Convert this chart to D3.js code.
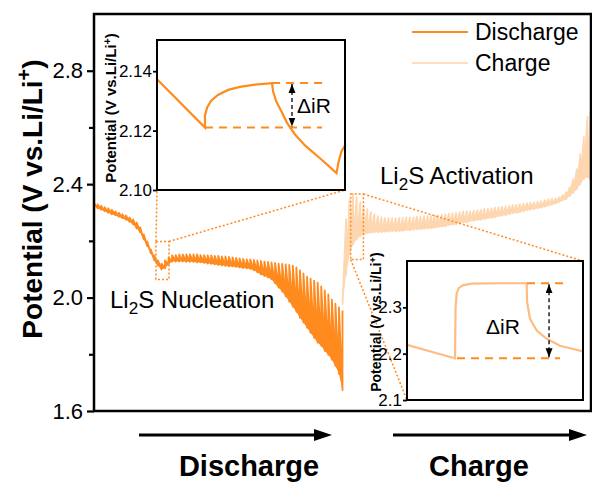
<!DOCTYPE html>
<html>
<head>
<meta charset="utf-8">
<script src="https://cdn.jsdelivr.net/npm/d3@7"></script>
<style>
  body { margin: 0; background: #fff; }
  svg { display: block; }
  text { font-family: "Liberation Sans", Arial, sans-serif; }
</style>
</head>
<body>
<svg id="chart"></svg>
<script>
// GITT pulses, volts. upper = relaxed tops, lower = end of each current pulse
const dischargeUpper = [2.333, 2.329, 2.324, 2.319, 2.315, 2.310, 2.304, 2.299, 2.294, 2.290,
  2.283, 2.276, 2.265, 2.248, 2.223, 2.198, 2.170, 2.149, 2.131, 2.120,
  2.131, 2.142, 2.149, 2.150, 2.152, 2.152, 2.152, 2.152, 2.152, 2.152,
  2.150, 2.150, 2.149, 2.149, 2.147, 2.147, 2.145, 2.145, 2.143, 2.142,
  2.140, 2.138, 2.136, 2.135, 2.135, 2.133, 2.131, 2.129, 2.127, 2.126,
  2.124, 2.122, 2.120, 2.119, 2.117, 2.115, 2.113, 2.106, 2.096, 2.085,
  2.074, 2.067, 2.060, 2.053, 2.039, 2.025, 2.011, 1.993, 1.979, 1.965, 1.954];
const dischargeLower = [2.315, 2.310, 2.304, 2.299, 2.294, 2.290, 2.285, 2.280, 2.274, 2.267,
  2.258, 2.244, 2.230, 2.205, 2.181, 2.156, 2.131, 2.113, 2.099, 2.103,
  2.117, 2.127, 2.127, 2.127, 2.127, 2.126, 2.126, 2.126, 2.124, 2.124,
  2.122, 2.120, 2.119, 2.117, 2.115, 2.113, 2.112, 2.110, 2.110, 2.108,
  2.106, 2.104, 2.103, 2.101, 2.096, 2.089, 2.081, 2.076, 2.071, 2.064,
  2.050, 2.035, 2.021, 2.004, 1.986, 1.968, 1.950, 1.929, 1.912, 1.894,
  1.876, 1.858, 1.841, 1.830, 1.812, 1.798, 1.781, 1.759, 1.731, 1.674];
const chargeLower = [1.975, 2.081, 2.152, 2.188, 2.205, 2.216, 2.223, 2.227, 2.228, 2.230,
  2.230, 2.230, 2.232, 2.232, 2.234, 2.234, 2.234, 2.235, 2.237, 2.237,
  2.239, 2.241, 2.241, 2.242, 2.244, 2.244, 2.246, 2.248, 2.250, 2.251,
  2.255, 2.257, 2.258, 2.262, 2.264, 2.265, 2.269, 2.271, 2.273, 2.274,
  2.276, 2.280, 2.281, 2.283, 2.287, 2.289, 2.290, 2.294, 2.297, 2.299,
  2.301, 2.304, 2.308, 2.310, 2.312, 2.315, 2.317, 2.320, 2.324, 2.327,
  2.331, 2.336, 2.342, 2.347, 2.358, 2.368, 2.382, 2.400, 2.418, 2.425, 2.407];
const chargeUpper = [2.276, 2.347, 2.365, 2.354, 2.336, 2.322, 2.312, 2.301, 2.294, 2.287,
  2.283, 2.280, 2.280, 2.280, 2.280, 2.281, 2.281, 2.283, 2.283, 2.283,
  2.285, 2.285, 2.287, 2.287, 2.288, 2.290, 2.290, 2.292, 2.294, 2.296,
  2.297, 2.299, 2.301, 2.303, 2.304, 2.304, 2.306, 2.308, 2.310, 2.312,
  2.313, 2.315, 2.317, 2.319, 2.320, 2.322, 2.324, 2.326, 2.327, 2.329,
  2.331, 2.333, 2.335, 2.336, 2.338, 2.340, 2.343, 2.347, 2.349, 2.350,
  2.354, 2.361, 2.372, 2.389, 2.418, 2.453, 2.506, 2.566, 2.637, 2.676];

const yMajor = [1.6, 2.0, 2.4, 2.8];
const yMinor = [1.8, 2.2, 2.6];

// single pulse close-ups (time in % of window, volts)
const inset1Time = [0, 25.5, 25.5, 26.6, 28.7, 32.4, 37.8, 44.1, 52.1, 61.2, 61.7, 63.3, 66, 69.1, 73.4, 78.7, 86.7, 95.5, 96.5, 98.1, 100];
const inset1Volt = [2.1373, 2.121, 2.125, 2.1277, 2.130, 2.132, 2.1337, 2.1347, 2.1355, 2.136, 2.1333, 2.130, 2.1267, 2.1227, 2.1187, 2.115, 2.1107, 2.1057, 2.1093, 2.113, 2.115];
const inset1Ticks = [2.10, 2.12, 2.14];
const inset2Time = [0, 14.9, 27.3, 27.6, 28.2, 29.5, 32, 37, 52.8, 68, 68.2, 69.9, 73.7, 79.4, 86.9, 100];
const inset2Volt = [2.219, 2.203, 2.190, 2.300, 2.330, 2.342, 2.348, 2.351, 2.352, 2.352, 2.312, 2.275, 2.250, 2.232, 2.217, 2.205];
const inset2Ticks = [2.1, 2.2, 2.3];

const orange = '#ff8b1f', light = '#fed6b0';

const W = 592, H = 484;
const margin = {top: 14, right: 1, bottom: 73, left: 94};
const svg = d3.select('#chart').attr('width', W).attr('height', H);

const x = d3.scaleLinear().domain([0, dischargeLower.length + chargeUpper.length]).range([margin.left, W - margin.right]);
const y = d3.scaleLinear().domain([1.6, 3.0]).range([H - margin.bottom, margin.top]);

svg.append('defs').append('clipPath').attr('id', 'plotclip')
  .append('rect').attr('x', margin.left).attr('y', margin.top)
  .attr('width', W - margin.left - margin.right).attr('height', H - margin.top - margin.bottom);

// sawtooth paths: tops are spikes, the body under each pulse is filled
const dPts = [];
dischargeLower.forEach((lo, i) => { dPts.push([i, dischargeUpper[i]]); dPts.push([i + 1, lo]); });
dPts.push([dischargeLower.length, dischargeUpper[dischargeLower.length]]);
const dBody = dPts.slice(0, -1).concat(dischargeLower.map((lo, i) => [i + 1, lo]).reverse());

const off = dischargeLower.length;
const cPts = [];
chargeUpper.forEach((up, i) => { cPts.push([off + i, chargeLower[i]]); cPts.push([off + i + 1, up]); });
cPts.push([off + chargeUpper.length, chargeLower[chargeUpper.length]]);
const cBody = cPts.concat(chargeLower.map((lo, i) => [off + i, lo]).reverse());

const line = d3.line().x(d => x(d[0])).y(d => y(d[1]));
const plot = svg.append('g').attr('clip-path', 'url(#plotclip)');
plot.append('path').attr('d', line(dBody) + 'Z').attr('fill', orange);
plot.append('path').attr('d', line(dPts)).attr('fill', 'none').attr('stroke', orange)
  .attr('stroke-width', 1.8).attr('stroke-linejoin', 'round');
plot.append('path').attr('d', line(cBody) + 'Z').attr('fill', light);
plot.append('path').attr('d', line(cPts)).attr('fill', 'none').attr('stroke', light)
  .attr('stroke-width', 1.8).attr('stroke-linejoin', 'round');

// frame + y axis
svg.append('rect').attr('x', margin.left).attr('y', margin.top)
  .attr('width', W - margin.left - margin.right).attr('height', H - margin.top - margin.bottom)
  .attr('fill', 'none').attr('stroke', '#000').attr('stroke-width', 2.5);

const yAx = svg.append('g').attr('transform', `translate(${margin.left},0)`)
  .call(d3.axisLeft(y).tickValues(yMajor).tickSize(7).tickPadding(4).tickFormat(d3.format('.1f')))
  .attr('font-size', 22).attr('font-family', '"Liberation Sans", Arial, sans-serif');
yAx.select('.domain').remove();
yAx.selectAll('line').attr('stroke-width', 2.2);
yAx.selectAll('text').attr('fill', '#000');
const yMin = svg.append('g').attr('transform', `translate(${margin.left},0)`)
  .call(d3.axisLeft(y).tickValues(yMinor).tickSize(5).tickFormat(''));
yMin.select('.domain').remove();
yMin.selectAll('line').attr('stroke-width', 2.2);

const yTitle = svg.append('text').attr('transform', 'translate(42,199) rotate(-90)')
  .attr('text-anchor', 'middle').attr('font-size', 28).attr('font-weight', 'bold');
yTitle.append('tspan').text('Potential (V vs.Li/Li');
yTitle.append('tspan').attr('dy', -11).attr('font-size', 20).text('+');
yTitle.append('tspan').attr('dy', 11).text(')');

// zoom boxes and guide lines
const dotted = g => g.attr('fill', 'none').attr('stroke', orange).attr('stroke-width', 1.5).attr('stroke-dasharray', '2,2');
const boxD = {x0: 17.46, x1: 21.13, v0: 2.064, v1: 2.198};
const boxC = {x0: 72.3, x1: 75.9, v0: 2.134, v1: 2.365};
[boxD, boxC].forEach(b => {
  svg.append('rect').attr('x', x(b.x0)).attr('y', y(b.v1))
    .attr('width', x(b.x1) - x(b.x0)).attr('height', y(b.v0) - y(b.v1)).call(dotted);
});
const guides = [
  [x(boxD.x0), y(boxD.v1), 157, 190],
  [x(boxD.x1), y(boxD.v1), 345, 190],
  [x(boxC.x1), y(boxC.v1), 583, 261],
  [x(boxC.x0), y(boxC.v0), 407, 400]
];
guides.forEach(g => svg.append('line').attr('x1', g[0]).attr('y1', g[1]).attr('x2', g[2]).attr('y2', g[3]).call(dotted));

// arrow marker for the ΔiR arrows
svg.select('defs').append('marker').attr('id', 'tip')
  .attr('markerUnits', 'userSpaceOnUse').attr('markerWidth', 10).attr('markerHeight', 8)
  .attr('refX', 9).attr('refY', 3.5).attr('orient', 'auto-start-reverse')
  .append('path').attr('d', 'M0,0 L9,3.5 L0,7 z').attr('fill', '#000');

function inset(cfg) {
  const g = svg.append('g');
  const ix = d3.scaleLinear().domain([0, 100]).range([cfg.x0, cfg.x1]);
  const iy = d3.scaleLinear().domain(cfg.yDomain).range([cfg.y1, cfg.y0]);
  const cid = 'clip' + cfg.id;
  svg.select('defs').append('clipPath').attr('id', cid).append('rect')
    .attr('x', cfg.x0).attr('y', cfg.y0).attr('width', cfg.x1 - cfg.x0).attr('height', cfg.y1 - cfg.y0);
  g.append('rect').attr('x', cfg.x0).attr('y', cfg.y0).attr('width', cfg.x1 - cfg.x0)
    .attr('height', cfg.y1 - cfg.y0).attr('fill', '#fff');

  const inner = g.append('g').attr('clip-path', `url(#${cid})`);
  inner.append('path').attr('d', d3.line().x(d => ix(d[0])).y(d => iy(d[1]))(cfg.time.map((t, i) => [t, cfg.volt[i]])))
    .attr('fill', 'none').attr('stroke', cfg.color).attr('stroke-width', 2.2);
  [cfg.top, cfg.bottom].forEach(m => {
    inner.append('line').attr('x1', ix(m[0])).attr('x2', ix(m[1])).attr('y1', iy(m[2])).attr('y2', iy(m[2]))
      .attr('stroke', orange).attr('stroke-width', 2).attr('stroke-dasharray', '8,6');
  });
  g.append('line').attr('x1', ix(cfg.arrowT)).attr('x2', ix(cfg.arrowT))
    .attr('y1', iy(cfg.top[2]) + 1).attr('y2', iy(cfg.bottom[2]) - 1)
    .attr('stroke', '#000').attr('stroke-width', 1.3).attr('stroke-dasharray', '4,3')
    .attr('marker-start', 'url(#tip)').attr('marker-end', 'url(#tip)');
  g.append('text').attr('x', cfg.label[0]).attr('y', cfg.label[1]).attr('text-anchor', 'middle')
    .attr('font-size', 21).text('ΔiR');

  g.append('rect').attr('x', cfg.x0).attr('y', cfg.y0).attr('width', cfg.x1 - cfg.x0)
    .attr('height', cfg.y1 - cfg.y0).attr('fill', 'none').attr('stroke', '#000').attr('stroke-width', 2);
  const ax = g.append('g').attr('transform', `translate(${cfg.x0},0)`)
    .call(d3.axisLeft(iy).tickValues(cfg.ticks).tickSize(4).tickPadding(1).tickFormat(d3.format(cfg.fmt)))
    .attr('font-size', 17).attr('font-family', '"Liberation Sans", Arial, sans-serif');
  ax.select('.domain').remove();
  ax.selectAll('line').attr('stroke-width', 1.8);
  ax.selectAll('text').attr('fill', '#000');

  const t = g.append('text').attr('transform', `translate(${cfg.titleX},${cfg.titleY}) rotate(-90)`)
    .attr('text-anchor', 'middle').attr('font-size', cfg.titleSize).attr('font-weight', 'bold');
  t.append('tspan').text('Potential (V vs.Li/Li');
  t.append('tspan').attr('dy', -5).attr('font-size', cfg.titleSize * 0.7).text('+');
  t.append('tspan').attr('dy', 5).text(')');
}

inset({id: 1, x0: 157, x1: 345, y0: 40, y1: 190, yDomain: [2.10, 2.1505],
  time: inset1Time, volt: inset1Volt, color: orange, ticks: inset1Ticks, fmt: '.2f',
  top: [61.2, 87.8, 2.136], bottom: [25.5, 87.8, 2.121], arrowT: 71.8,
  label: [314, 113], titleX: 116, titleY: 108, titleSize: 15});
inset({id: 2, x0: 407, x1: 583, y0: 261, y1: 400, yDomain: [2.1, 2.4],
  time: inset2Time, volt: inset2Volt, color: '#fdbd82', ticks: inset2Ticks, fmt: '.1f',
  top: [68.2, 89.8, 2.352], bottom: [28.4, 86.9, 2.190], arrowT: 80.7,
  label: [503, 334], titleX: 381, titleY: 322, titleSize: 14});

// annotations
function li2s(xp, yp, rest) {
  const t = svg.append('text').attr('x', xp).attr('y', yp).attr('font-size', 24);
  t.append('tspan').text('Li');
  t.append('tspan').attr('dy', 6).attr('font-size', 17).text('2');
  t.append('tspan').attr('dy', -6).text('S ' + rest);
}
li2s(110, 308, 'Nucleation');
li2s(380, 184, 'Activation');

// legend
const legend = [['Discharge', orange, 32], ['Charge', '#fedcbd', 63]];
legend.forEach(([name, c, ly]) => {
  svg.append('line').attr('x1', 412).attr('x2', 468).attr('y1', ly).attr('y2', ly)
    .attr('stroke', c).attr('stroke-width', 2.2);
  svg.append('text').attr('x', 475).attr('y', ly + 8).attr('font-size', 23).text(name);
});

// direction arrows under the axis
const dirs = [['Discharge', 139, 332, 249], ['Charge', 393, 587, 479]];
dirs.forEach(([name, a, b, cx]) => {
  svg.append('line').attr('x1', a).attr('x2', b - 16).attr('y1', 435).attr('y2', 435)
    .attr('stroke', '#000').attr('stroke-width', 2.8);
  svg.append('path').attr('d', `M${b},435 L${b - 18},429 L${b - 18},441 Z`).attr('fill', '#000');
  svg.append('text').attr('x', cx).attr('y', 476).attr('text-anchor', 'middle')
    .attr('font-size', 29).attr('font-weight', 'bold').text(name);
});
</script>
</body>
</html>
